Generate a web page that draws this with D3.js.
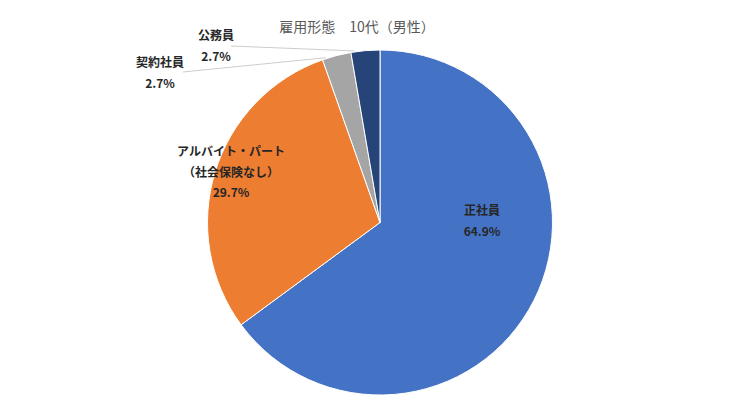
<!DOCTYPE html>
<html lang="ja">
<head>
    <meta charset="UTF-8">
    <title>雇用形態 10代（男性）</title>
    <style>
        body { margin: 0; background: #fff; }
        text { font-family: "Noto Sans CJK JP", "Noto Sans", sans-serif; }
    </style>
</head>
<body>
    <div id="container"></div>

    <script src="https://d3js.org/d3.v7.min.js"></script>
    <script>
        // chart values
        var categories = ["正社員", "アルバイト・パート\n（社会保険なし）", "契約社員", "公務員"];
        var values = [64.9, 29.7, 2.7, 2.7];
        var colors = ["#4472C4", "#ED7D31", "#A5A5A5", "#264478"];
        var title = "雇用形態　10代（男性）";

        var width = 730, height = 411;
        var cx = 380, cy = 222.5, radius = 172.5;

        // label block centre (first line) and optional leader line start
        var labelLayout = [
            { x: 482, y: 211 },
            { x: 231, y: 152 },
            { x: 160, y: 63, lx: 183, ly: 72 },
            { x: 216, y: 36, lx: 231, ly: 46 }
        ];

        var svg = d3.select("#container")
            .append("svg")
            .attr("width", width)
            .attr("height", height);

        svg.append("text")
            .attr("x", 357)
            .attr("y", 25.5)
            .attr("text-anchor", "middle")
            .attr("dominant-baseline", "central")
            .attr("fill", "#595959")
            .attr("font-size", 14)
            .text(title);

        var pie = d3.pie().sort(null).value(function(d) { return d; });
        var arcs = pie(values);

        var arc = d3.arc().innerRadius(0).outerRadius(radius);

        var g = svg.append("g")
            .attr("transform", "translate(" + cx + "," + cy + ")");

        g.selectAll("path")
            .data(arcs)
            .enter()
            .append("path")
            .attr("d", arc)
            .attr("fill", function(d, i) { return colors[i]; })
            .attr("stroke", "#fff")
            .attr("stroke-width", 1);

        // leader lines for the small slices
        arcs.forEach(function(d, i) {
            var L = labelLayout[i];
            if (L.lx === undefined) return;
            var a = d.startAngle + 0.12 * (d.endAngle - d.startAngle);
            var ex = cx + (radius + 1) * Math.sin(a);
            var ey = cy - (radius + 1) * Math.cos(a);
            svg.append("line")
                .attr("x1", L.lx).attr("y1", L.ly)
                .attr("x2", ex).attr("y2", ey)
                .attr("stroke", "#BFBFBF")
                .attr("stroke-width", 0.8);
        });

        // data labels
        var labels = svg.append("g");
        arcs.forEach(function(d, i) {
            var L = labelLayout[i];
            var lines = categories[i].split("\n").concat([values[i].toFixed(1) + "%"]);
            var t = labels.append("text")
                .attr("text-anchor", "middle")
                .attr("font-size", 12)
                .attr("font-weight", "bold")
                .attr("fill", "#262626");
            lines.forEach(function(s, k) {
                t.append("tspan")
                    .attr("x", L.x)
                    .attr("y", L.y + k * 20.5)
                    .attr("dy", "0.35em")
                    .text(s);
            });
        });
    </script>
</body>
</html>
